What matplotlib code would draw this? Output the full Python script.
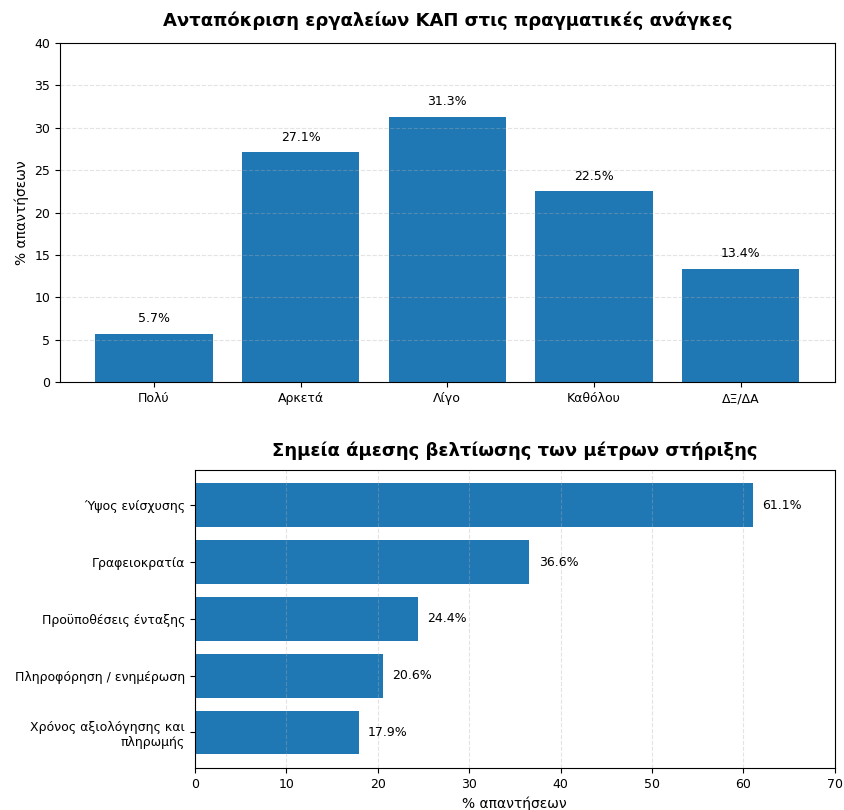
import matplotlib.pyplot as plt

responses = ["Πολύ", "Αρκετά", "Λίγο", "Καθόλου", "ΔΞ/ΔΑ"]
response_pct = [5.7, 27.1, 31.3, 22.5, 13.4]

improvements = ["Ύψος ενίσχυσης", "Γραφειοκρατία", "Προϋποθέσεις ένταξης",
                "Πληροφόρηση / ενημέρωση", "Χρόνος αξιολόγησης και\nπληρωμής"]
improvement_pct = [61.1, 36.6, 24.4, 20.6, 17.9]

color = "#1f77b4"

fig = plt.figure(figsize=(8.44, 8.10), dpi=100)

# top: vertical bars
ax1 = fig.add_axes([0.071, 0.528, 0.918, 0.419])
bars = ax1.bar(responses, response_pct, color=color, width=0.8)
for b, v in zip(bars, response_pct):
    ax1.text(b.get_x() + b.get_width() / 2, v + 1, f"{v}%",
             ha="center", va="bottom", fontsize=9)
ax1.set_ylim(0, 40)
ax1.set_ylabel("% απαντήσεων", fontsize=10)
ax1.set_title("Ανταπόκριση εργαλείων ΚΑΠ στις πραγματικές ανάγκες",
              fontsize=13, fontweight="bold", pad=12)
ax1.grid(axis="y", linestyle="--", alpha=0.35)
ax1.tick_params(labelsize=9)

# bottom: horizontal bars
ax2 = fig.add_axes([0.231, 0.052, 0.758, 0.368])
hbars = ax2.barh(improvements, improvement_pct, color=color, height=0.77)
for b, v in zip(hbars, improvement_pct):
    ax2.text(v + 1, b.get_y() + b.get_height() / 2, f"{v}%",
             ha="left", va="center", fontsize=9)
ax2.invert_yaxis()
ax2.set_xlim(0, 70)
ax2.set_xlabel("% απαντήσεων", fontsize=10)
ax2.set_title("Σημεία άμεσης βελτίωσης των μέτρων στήριξης",
              fontsize=13, fontweight="bold", pad=10)
ax2.grid(axis="x", linestyle="--", alpha=0.35)
ax2.tick_params(labelsize=9)

fig.savefig("out.png", dpi=100)
